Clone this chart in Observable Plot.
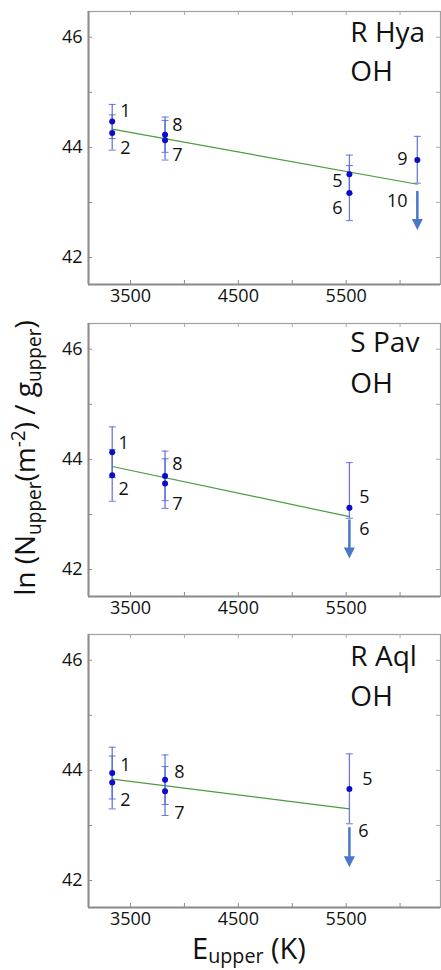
<!DOCTYPE html>
<html>
<head>
<meta charset="utf-8">
<script src="https://cdn.jsdelivr.net/npm/d3@7"></script>
<script src="https://cdn.jsdelivr.net/npm/@observablehq/plot@0.6"></script>
<style>
  html, body { margin: 0; padding: 0; background: #fff; }
  #wrap { position: relative; width: 441px; height: 970px; font-family: "Open Sans", sans-serif; color: #111; overflow: hidden; }
  .panel { position: absolute; left: 0; }
  .ytitle { position: absolute; left: 24px; top: 458px; transform: translate(-50%, -50%) rotate(-90deg); white-space: nowrap; font-size: 28px; line-height: 1; }
  .xtitle { position: absolute; left: 249px; top: 933px; transform: translateX(-50%); white-space: nowrap; font-size: 29px; line-height: 1; }
  .sb { font-size: 0.68em; position: relative; top: 0.3em; }
  .xtitle .sb { top: 0.22em; }
  .sp { font-size: 0.68em; position: relative; top: -0.55em; }
</style>
</head>
<body>
<div id="wrap">
  <div class="panel" id="p0" style="top:0px"></div>
  <div class="panel" id="p1" style="top:312px"></div>
  <div class="panel" id="p2" style="top:623px"></div>
  <div class="ytitle">ln (N<span class="sb">upper</span>(m<span class="sp">-2</span>) / g<span class="sb">upper</span>)</div>
  <div class="xtitle">E<span class="sb">upper</span> (K)</div>
</div>
<script>
// ---------- data ----------
const stars = ["R Hya", "S Pav", "R Aql"];
const molecule = "OH";
const xTickLabels = [3500, 4500, 5500];
const xTickMarks = [3500, 4000, 4500, 5000, 5500, 6000];
const yTickLabels = [42, 44, 46];
const yTickMarks = [42, 43, 44, 45, 46];

// R Hya
const rHyaLine = ["1", "2", "8", "7", "5", "6", "9"];
const rHyaE = [3330, 3330, 3820, 3820, 5530, 5530, 6160];
const rHyaLnN = [44.47, 44.26, 44.23, 44.13, 43.51, 43.17, 43.77];
const rHyaLo = [44.16, 43.95, 43.91, 43.77, 43.16, 42.67, 43.35];
const rHyaHi = [44.78, 44.59, 44.55, 44.49, 43.86, 43.67, 44.20];
const rHyaLimitLine = ["10"];
const rHyaLimitE = [6160];
const rHyaLimitFrom = [43.20];
const rHyaLimitTo = [42.50];
const rHyaFitE = [3330, 6160];
const rHyaFitLnN = [44.33, 43.33];
const rHyaLabelText = ["1", "2", "8", "7", "5", "6", "9", "10"];
const rHyaLabelE = [3453, 3453, 3935, 3935, 5419, 5419, 6021, 5975];
const rHyaLabelLnN = [44.65, 43.98, 44.41, 43.85, 43.39, 42.89, 43.78, 43.03];
const rHyaNameLnN = [46.085, 45.36];

// S Pav
const sPavLine = ["1", "2", "8", "7", "5"];
const sPavE = [3330, 3330, 3820, 3820, 5530];
const sPavLnN = [44.13, 43.71, 43.70, 43.56, 43.12];
const sPavLo = [43.67, 43.24, 43.25, 43.11, 42.93];
const sPavHi = [44.59, 44.18, 44.15, 44.01, 43.94];
const sPavLimitLine = ["6"];
const sPavLimitE = [5530];
const sPavLimitFrom = [42.90];
const sPavLimitTo = [42.20];
const sPavFitE = [3330, 5530];
const sPavFitLnN = [43.87, 42.96];
const sPavLabelText = ["1", "2", "8", "7", "5", "6"];
const sPavLabelE = [3435, 3435, 3935, 3935, 5669, 5669];
const sPavLabelLnN = [44.285, 43.454, 43.909, 43.18, 43.314, 42.74];
const sPavNameLnN = [46.11, 45.376];

// R Aql
const rAqlLine = ["1", "2", "8", "7", "5"];
const rAqlE = [3330, 3330, 3820, 3820, 5530];
const rAqlLnN = [43.95, 43.78, 43.83, 43.62, 43.66];
const rAqlLo = [43.48, 43.30, 43.38, 43.18, 43.03];
const rAqlHi = [44.42, 44.26, 44.28, 44.07, 44.30];
const rAqlLimitLine = ["6"];
const rAqlLimitE = [5530];
const rAqlLimitFrom = [42.96];
const rAqlLimitTo = [42.24];
const rAqlFitE = [3330, 5530];
const rAqlFitLnN = [43.84, 43.30];
const rAqlLabelText = ["1", "2", "8", "7", "5", "6"];
const rAqlLabelE = [3453, 3453, 3954, 3954, 5697, 5660];
const rAqlLabelLnN = [44.085, 43.45, 43.963, 43.218, 43.836, 42.89];
const rAqlNameLnN = [46.054, 45.33];

const nameE = 5539;

// ---------- build ----------
function zip(keys, ...cols) {
  return cols[0].map((_, i) => Object.fromEntries(keys.map((k, j) => [k, cols[j][i]])));
}

const panels = [
  { star: stars[0], pts: zip(["id","E","v","lo","hi"], rHyaLine, rHyaE, rHyaLnN, rHyaLo, rHyaHi),
    lim: zip(["id","E","from","to"], rHyaLimitLine, rHyaLimitE, rHyaLimitFrom, rHyaLimitTo),
    fit: zip(["E","v"], rHyaFitE, rHyaFitLnN),
    labels: zip(["t","E","v"], rHyaLabelText, rHyaLabelE, rHyaLabelLnN),
    names: zip(["t","v"], [stars[0], molecule], rHyaNameLnN) },
  { star: stars[1], pts: zip(["id","E","v","lo","hi"], sPavLine, sPavE, sPavLnN, sPavLo, sPavHi),
    lim: zip(["id","E","from","to"], sPavLimitLine, sPavLimitE, sPavLimitFrom, sPavLimitTo),
    fit: zip(["E","v"], sPavFitE, sPavFitLnN),
    labels: zip(["t","E","v"], sPavLabelText, sPavLabelE, sPavLabelLnN),
    names: zip(["t","v"], [stars[1], molecule], sPavNameLnN) },
  { star: stars[2], pts: zip(["id","E","v","lo","hi"], rAqlLine, rAqlE, rAqlLnN, rAqlLo, rAqlHi),
    lim: zip(["id","E","from","to"], rAqlLimitLine, rAqlLimitE, rAqlLimitFrom, rAqlLimitTo),
    fit: zip(["E","v"], rAqlFitE, rAqlFitLnN),
    labels: zip(["t","E","v"], rAqlLabelText, rAqlLabelE, rAqlLabelLnN),
    names: zip(["t","v"], [stars[2], molecule], rAqlNameLnN) }
];

const W = 441, H = 311, MT = 11, MB = 27, ML = 88, MR = 1;
const FW = W - ML - MR, FH = H - MT - MB;
const xDomain = [3110, 6375];
const yDomain = [41.51, 46.467];

const capSymbol = { draw(ctx) { ctx.moveTo(-3.5, 0); ctx.lineTo(3.5, 0); } };
const headSymbol = { draw(ctx) { ctx.moveTo(0, 0); ctx.lineTo(-5.5, -11); ctx.lineTo(5.5, -11); ctx.closePath(); } };

const errColor = "#5a6ad8";
const dotColor = "#0c0cc8";
const arrowColor = "#4a78c8";
const fitColor = "#4a9c3e";
const frameColor = "#8c8c8c";

panels.forEach((p, i) => {
  const caps = p.pts.flatMap(d => [{E: d.E, v: d.lo}, {E: d.E, v: d.hi}]);
  const chart = Plot.plot({
    width: W, height: H,
    marginTop: MT, marginBottom: MB, marginLeft: ML, marginRight: MR,
    x: { domain: xDomain, label: null },
    y: { domain: yDomain, label: null },
    style: { fontFamily: "'Open Sans', sans-serif", fontSize: "18px", color: "#111", background: "transparent", overflow: "visible" },
    marks: [
      Plot.frame({ stroke: "#a0a0a0", strokeWidth: 1.2 }),
      Plot.ruleX([xDomain[0]], { stroke: frameColor, strokeWidth: 2 }),
      Plot.ruleY([yDomain[0]], { stroke: frameColor, strokeWidth: 2 }),
      Plot.tickX(xTickMarks, { insetTop: FH - 4, stroke: frameColor }),
      Plot.tickX(xTickMarks, { insetBottom: FH - 4, stroke: "#aaa" }),
      Plot.tickY(yTickMarks, { insetRight: FW - 4, stroke: frameColor }),
      Plot.tickY(yTickMarks, { insetLeft: FW - 4, stroke: "#aaa" }),
      Plot.axisX(xTickLabels, { tickSize: 0, tickPadding: 5, fontSize: 18, fill: "#111", label: null, tickFormat: d => String(d) }),
      Plot.axisY(yTickLabels, { tickSize: 0, tickPadding: 6, fontSize: 18, fill: "#111", label: null, tickFormat: d => String(d) }),
      Plot.line(p.fit, { x: "E", y: "v", stroke: fitColor, strokeWidth: 1.2 }),
      Plot.ruleX(p.pts, { x: "E", y1: "lo", y2: "hi", stroke: errColor, strokeWidth: 1.3, strokeOpacity: 0.9 }),
      Plot.dot(caps, { x: "E", y: "v", symbol: capSymbol, stroke: errColor, strokeWidth: 1, fill: "none", strokeOpacity: 0.9 }),
      Plot.ruleX(p.lim, { x: "E", y1: "from", y2: "to", stroke: arrowColor, strokeWidth: 2.5, insetBottom: 4 }),
      Plot.dot(p.lim, { x: "E", y: "to", symbol: headSymbol, fill: arrowColor, stroke: "none" }),
      Plot.dot(p.pts, { x: "E", y: "v", r: 3, fill: dotColor }),
      Plot.text(p.labels, { x: "E", y: "v", text: "t", fontSize: 18, fill: "#111", textAnchor: "middle" }),
      Plot.text(p.names, { x: () => nameE, y: "v", text: "t", fontSize: 28, fill: "#111", textAnchor: "start" })
    ]
  });
  document.getElementById("p" + i).appendChild(chart);
});
</script>
</body>
</html>
